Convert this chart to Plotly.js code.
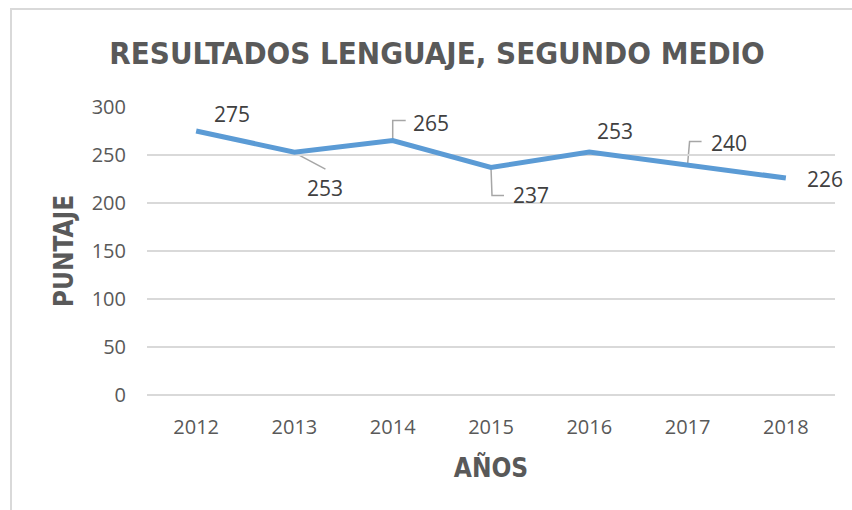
<!DOCTYPE html>
<html>
<head>
<meta charset="utf-8">
<script src="https://cdn.plot.ly/plotly-3.0.1.min.js"></script>
<style>
  html, body { margin: 0; padding: 0; background: #fff; overflow: hidden; }
  #wrap { position: relative; width: 852px; height: 510px; overflow: hidden; }
  #chart { position: absolute; left: 0; top: 0; width: 852px; height: 510px; }
  #frame { position: absolute; left: 10px; top: 8px; width: 900px; height: 600px;
           border: 2px solid #d9d9d9; box-sizing: border-box; pointer-events: none; }
</style>
</head>
<body>
<div id="wrap"><div id="chart"></div><div id="frame"></div></div>
<script>
const years = ["2012", "2013", "2014", "2015", "2016", "2017", "2018"];
const scores = [275, 253, 265, 237, 253, 240, 226];
const yTicks = [0, 50, 100, 150, 200, 250, 300];

// label offsets from each point, in pixels (dx right, dy up)
const labelShift = [[36, 17], [31, -36], [38, 18], [40, -28], [26, 21], [41, 22], [39, -1]];
// leader line paths (pixels relative to the point, y up) — null when none
const leaders = [null, "M-1,0 L31,-17", "M0,0 L0,20 L13,20", "M0,0 L1,-28 L13,-28", null, "M0,0 L2,23 L14,23", null];

const narrow = "'Liberation Sans Narrow', 'DejaVu Sans Condensed', 'Arial Narrow', sans-serif";
const body = "'Open Sans', 'Noto Sans', sans-serif";

const annotations = years.map((yr, i) => ({
  x: i, y: scores[i], xref: 'x', yref: 'y',
  text: String(scores[i]), showarrow: false,
  xanchor: 'center', yanchor: 'middle',
  xshift: labelShift[i][0], yshift: labelShift[i][1],
  font: { family: body, size: 21, color: '#404040' }
}));

const shapes = [];
years.forEach((yr, i) => {
  if (!leaders[i]) return;
  shapes.push({
    type: 'path', xref: 'x', yref: 'y',
    xsizemode: 'pixel', ysizemode: 'pixel',
    xanchor: i, yanchor: scores[i],
    path: leaders[i],
    line: { color: '#a6a6a6', width: 1.5 },
    layer: 'below'
  });
});

const trace = {
  x: years, y: scores, type: 'scatter', mode: 'lines',
  line: { color: '#5b9bd5', width: 5 },
  hoverinfo: 'skip'
};

const layout = {
  width: 852, height: 510,
  margin: { l: 147, r: 17, t: 107, b: 115 },
  paper_bgcolor: '#ffffff', plot_bgcolor: '#ffffff',
  showlegend: false,
  title: {
    text: 'RESULTADOS LENGUAJE, SEGUNDO MEDIO',
    xref: 'container', yref: 'container',
    x: 437 / 852, y: 1 - 53 / 510, xanchor: 'center', yanchor: 'middle',
    font: { family: narrow, size: 31, color: '#595959', weight: 'bold' }
  },
  xaxis: {
    type: 'category', categoryarray: years, categoryorder: 'array',
    range: [-0.5, years.length - 0.5], autorange: false,
    showgrid: false, zeroline: false, showline: false,
    ticks: '', ticklabelstandoff: 18,
    tickfont: { family: body, size: 20, color: '#595959' },
    title: { text: 'AÑOS', standoff: 19,
      font: { family: narrow, size: 26, color: '#595959', weight: 'bold' } },
    fixedrange: true
  },
  yaxis: {
    range: [0, 300], autorange: false, tickvals: yTicks, ticktext: yTicks.map(String),
    showgrid: true, gridcolor: '#d9d9d9', gridwidth: 1.3,
    zeroline: true, zerolinecolor: '#d9d9d9', zerolinewidth: 1.3,
    showline: false, ticks: '', ticklabelstandoff: 20,
    tickfont: { family: body, size: 20, color: '#595959' },
    title: { text: 'PUNTAJE', standoff: 10,
      font: { family: narrow, size: 26, color: '#595959', weight: 'bold' } },
    fixedrange: true
  },
  annotations: annotations,
  shapes: shapes
};

Plotly.newPlot('chart', [trace], layout, { displayModeBar: false, staticPlot: true });
</script>
</body>
</html>
